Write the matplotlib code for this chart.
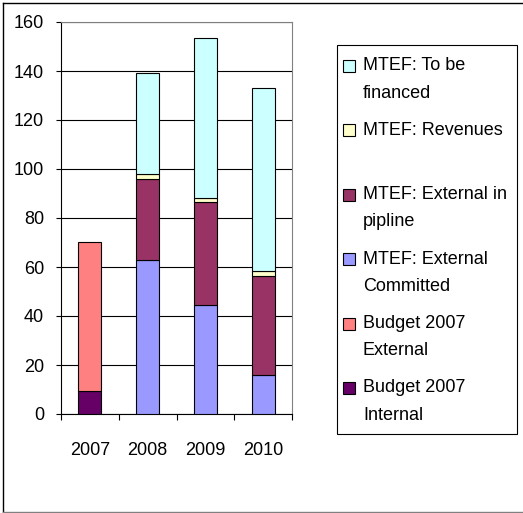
import matplotlib
matplotlib.use("Agg")
import matplotlib.pyplot as plt
from matplotlib.patches import Rectangle
from matplotlib.lines import Line2D
import numpy as np

plt.rcParams['font.family'] = ['Liberation Sans', 'DejaVu Sans']

years = ['2007', '2008', '2009', '2010']
budget_internal = [9.5, 0, 0, 0]
budget_external = [60.5, 0, 0, 0]
ext_committed = [0, 63.0, 44.5, 15.8]
ext_pipeline = [0, 33.0, 42.0, 40.6]
revenues = [0, 1.8, 1.5, 2.0]
to_be_financed = [0, 41.4, 65.5, 74.8]

# stacking order, bottom to top
series = [
    ("Budget 2007\nInternal", budget_internal, "#660066"),
    ("Budget 2007\nExternal", budget_external, "#FF8080"),
    ("MTEF: External\nCommitted", ext_committed, "#9999FF"),
    ("MTEF: External in\npipline", ext_pipeline, "#993366"),
    ("MTEF: Revenues", revenues, "#FFFFCC"),
    ("MTEF: To be\nfinanced", to_be_financed, "#CCFFFF"),
]

FS = 13
W, H = 523, 513
fig = plt.figure(figsize=(W / 100, H / 100), dpi=100)

def fx(px):
    return px / W

def fy(py):
    return 1 - py / H

ax = fig.add_axes([fx(61), fy(414), fx(292) - fx(61), fy(22) - fy(414)])

x = np.arange(len(years))
bottom = np.zeros(len(years))
for label, vals, color in series:
    vals = np.array(vals, dtype=float)
    m = vals > 0
    ax.bar(x[m], vals[m], width=0.4, bottom=bottom[m], color=color,
           edgecolor="black", linewidth=0.8, zorder=3)
    bottom += vals

ax.set_xlim(-0.5, 3.5)
ax.set_ylim(0, 160)
ax.set_yticks(range(0, 161, 20))
ax.yaxis.grid(True, color="black", linewidth=0.8, zorder=0)
ax.set_axisbelow(True)

ax.set_xticks(x)
ax.set_xticklabels(years)
ax.set_xticks(np.arange(-0.5, 3.6, 1), minor=True)
ax.tick_params(axis="x", which="major", length=0, pad=20.5, labelsize=FS)
ax.tick_params(axis="x", which="minor", length=4.3, width=0.8, direction="out")
ax.tick_params(axis="y", length=3.6, width=0.8, direction="out", pad=8.5, labelsize=FS)

for s in ["left", "bottom"]:
    ax.spines[s].set_color("black")
    ax.spines[s].set_linewidth(0.8)
for s in ["right", "top"]:
    ax.spines[s].set_color("#808080")
    ax.spines[s].set_linewidth(0.8)

# legend box drawn by hand to match the Excel layout
fig.patches.append(Rectangle((fx(337), fy(434)), fx(517) - fx(337), fy(45) - fy(434),
                             transform=fig.transFigure, facecolor="white",
                             edgecolor="black", linewidth=0.8))
for i, (label, vals, color) in enumerate(series[::-1]):
    y0 = 66 + i * 64.4
    fig.patches.append(Rectangle((fx(343), fy(y0 + 6)), fx(12), 12 / H,
                                 transform=fig.transFigure, facecolor=color,
                                 edgecolor="black", linewidth=0.8))
    for j, line in enumerate(label.split("\n")):
        fig.text(fx(363), fy(y0 + j * 27), line, fontsize=FS,
                 ha="left", va="center")

# outer chart border
fig.add_artist(Line2D([fx(3), fx(3)], [fy(3), fy(512)], color="black", lw=1))
fig.add_artist(Line2D([fx(3), 1], [fy(3), fy(3)], color="black", lw=1))
fig.add_artist(Line2D([fx(3), 1], [fy(512), fy(512)], color="#808080", lw=1))

fig.savefig("out.png", dpi=100)
